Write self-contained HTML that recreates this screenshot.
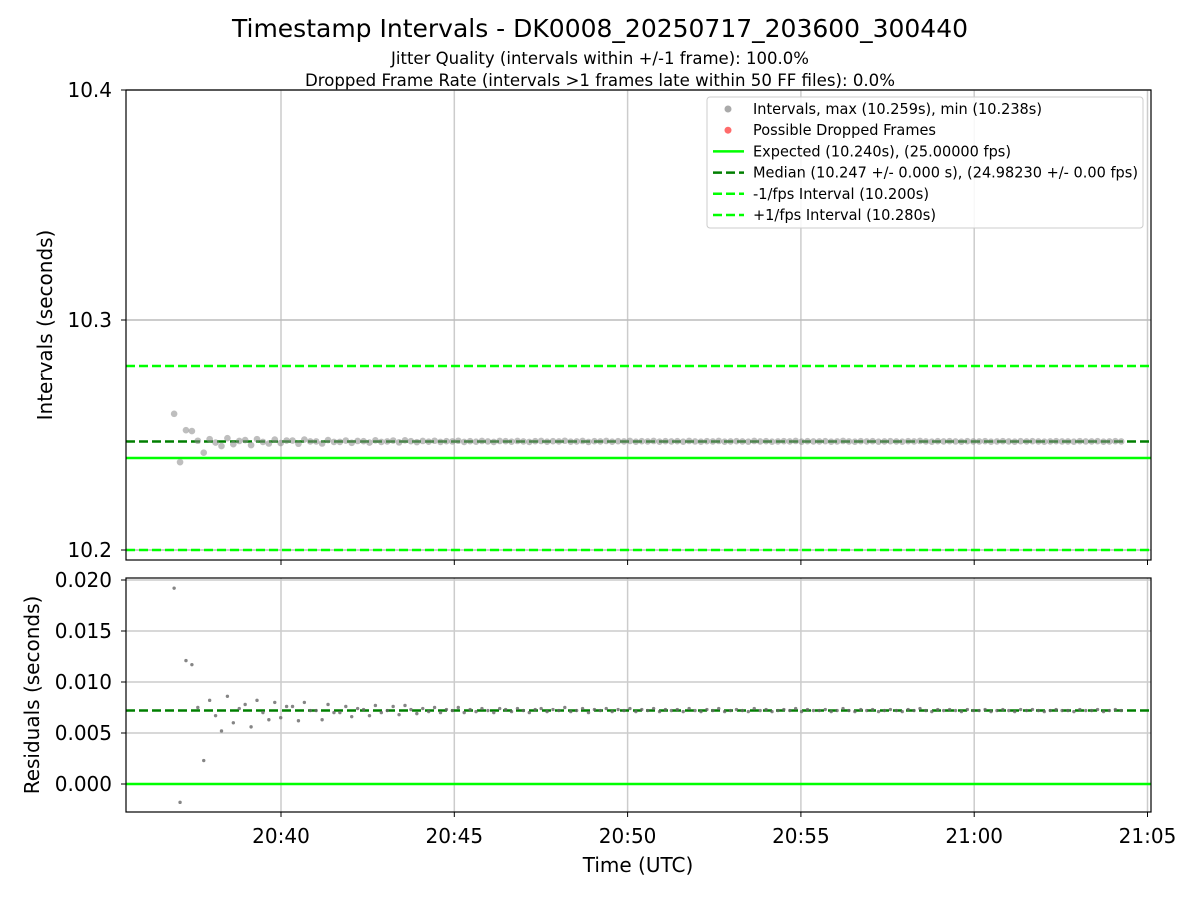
<!DOCTYPE html>
<html><head><meta charset="utf-8"><style>
body{margin:0;background:#fff;}
svg{display:block;font-family:"DejaVu Sans","Liberation Sans",sans-serif;}
</style></head><body>
<svg id="chart" width="1200" height="900" xmlns="http://www.w3.org/2000/svg">
<rect width="1200" height="900" fill="#fff"/>
<text x="600" y="37" text-anchor="middle" font-size="25" textLength="736" lengthAdjust="spacingAndGlyphs">Timestamp Intervals - DK0008_20250717_203600_300440</text>
<text x="600" y="64" text-anchor="middle" font-size="16.5" textLength="418" lengthAdjust="spacingAndGlyphs">Jitter Quality (intervals within +/-1 frame): 100.0%</text>
<text x="600" y="86" text-anchor="middle" font-size="16.5" textLength="590" lengthAdjust="spacingAndGlyphs">Dropped Frame Rate (intervals &gt;1 frames late within 50 FF files): 0.0%</text>
<g id="topPanel"></g>
<g id="botPanel"></g>
</svg>
<script>
const residuals = [0.0192,-0.0018,0.0121,0.0117,0.0075,0.0023,0.0082,0.0067,0.0052,0.0086,0.0060,0.0074,0.0078,0.0056,0.0082,0.0070,0.0063,0.0080,0.0065,0.0076,0.0076,0.0062,0.0080,0.0072,0.0072,0.0063,0.0078,0.0070,0.0070,0.0076,0.0066,0.0074,0.0073,0.0067,0.0077,0.0070,0.0072,0.0076,0.0068,0.0077,0.0073,0.0069,
0.0074,0.0071,0.0075,0.0070,0.0073,0.0072,0.0075,0.0070,0.0073,0.0071,0.0074,0.0072,0.0070,0.0074,0.0073,0.0071,0.0074,0.0072,0.0070,0.0073,0.0074,0.0071,0.0073,0.0072,0.0075,0.0071,0.0072,0.0074,0.0070,0.0073,0.0072,0.0074,0.0071,0.0073,0.0072,0.0074,0.0071,0.0073,
0.0072,0.0074,0.0071,0.0073,0.0072,0.0073,0.0071,0.0074,0.0072,0.0071,0.0073,0.0072,0.0074,0.0071,0.0072,0.0073,0.0072,0.0071,0.0074,0.0072,0.0073,0.0071,0.0072,0.0073,0.0072,0.0074,0.0071,0.0073,0.0072,0.0072,0.0073,0.0071,0.0072,0.0074,0.0072,0.0071,0.0073,0.0072,0.0073,0.0071,
0.0072,0.0073,0.0072,0.0071,0.0073,0.0072,0.0074,0.0072,0.0071,0.0073,0.0072,0.0073,0.0072,0.0071,0.0073,0.0072,0.0072,0.0073,0.0071,0.0072,0.0073,0.0072,0.0071,0.0073,0.0072,0.0073,0.0072,0.0071,0.0072,0.0073,0.0072,0.0072,0.0071,0.0073,0.0072,0.0072,0.0073,0.0071,0.0072,0.0073,0.0072];
const expected = 10.240;
const median = 10.2472;
const startSec = 20*3600+36*60+55;
const xTickLabels = ["20:40","20:45","20:50","20:55","21:00","21:05"];
const xTickSecs = [20*3600+40*60,20*3600+45*60,20*3600+50*60,20*3600+55*60,21*3600,21*3600+5*60];
const topTicks = [10.2,10.3,10.4];
const botTicks = [0.000,0.005,0.010,0.015,0.020];

const NS="http://www.w3.org/2000/svg";
function mk(p,t,a){const e=document.createElementNS(NS,t);for(const k in a)e.setAttribute(k,a[k]);p.appendChild(e);return e;}
const L=126,R=1151;
const x0=xTickSecs[0],xpx0=281,pxPerSec=173.3/300;
const X=s=>xpx0+(s-x0)*pxPerSec;
const TT=90,TB=560, Yt=v=>90+(10.4-v)*2300;
const BT=578,BB=812, Yb=v=>784-v*10200;
const topG=document.getElementById('topPanel'),botG=document.getElementById('botPanel');

for(const s of xTickSecs){
  let g=mk(topG,'line',{x1:X(s),x2:X(s),y1:TT,y2:TB,stroke:'#ccc','stroke-width':1.5});
  
  
  g=mk(botG,'line',{x1:X(s),x2:X(s),y1:BT,y2:BB,stroke:'#ccc','stroke-width':1.5});
  
  
}
for(const v of topTicks){
  const g=mk(topG,'line',{x1:L,x2:R,y1:Yt(v),y2:Yt(v),stroke:'#bbb','stroke-width':1.5});
  
  
  const t=mk(topG,'text',{x:112,y:Yt(v)+7,'text-anchor':'end','font-size':20});t.textContent=v.toFixed(1);
  
  
  mk(topG,'line',{x1:L-5,x2:L,y1:Yt(v),y2:Yt(v),stroke:'#000'});
}
for(const v of botTicks){
  const g=mk(botG,'line',{x1:L,x2:R,y1:Yb(v),y2:Yb(v),stroke:'#ccc','stroke-width':1.5});
  
  
  const t=mk(botG,'text',{x:112,y:Yb(v)+7,'text-anchor':'end','font-size':20});t.textContent=v.toFixed(3);
  
  
  mk(botG,'line',{x1:L-5,x2:L,y1:Yb(v),y2:Yb(v),stroke:'#000'});
}
function hl(p,y,col,dash,name){const e=mk(p,'line',{x1:L,x2:R,y1:y,y2:y,stroke:col,'stroke-width':2.5});if(dash)e.setAttribute('stroke-dasharray',dash);
  
  }
hl(topG,Yt(expected+0.04),'#00ff00','9,4','plus-fps-line');
hl(topG,Yt(expected-0.04),'#00ff00','9,4','minus-fps-line');
hl(topG,Yt(expected),'#00ff00',null,'expected-line');
hl(topG,Yt(median),'#007f00','9,4','median-line');
hl(botG,Yb(0),'#00ff00',null,'residual-zero-line');
hl(botG,Yb(median-expected),'#007f00','9,4','residual-median-line');
let tcur=startSec;
residuals.forEach((r,i)=>{
  const cx=X(tcur);
  if(cx<=R+2){
    const c=mk(topG,'circle',{cx:cx,cy:Yt(expected+r),r:3.3,fill:'#888','fill-opacity':0.55});
    
    
    const d=mk(botG,'circle',{cx:cx,cy:Yb(r),r:1.7,fill:'#666','fill-opacity':0.8});
    
    
  }
  tcur+=expected+r;
});
for(const [p,a,b] of [[topG,TT,TB],[botG,BT,BB]]){
  const f=mk(p,'rect',{x:L,y:a,width:R-L,height:b-a,fill:'none',stroke:'#000','stroke-width':1.2});
  
  
}
xTickSecs.forEach((s,i)=>{
  mk(topG,'line',{x1:X(s),x2:X(s),y1:TB,y2:TB+5,stroke:'#000'});
  mk(botG,'line',{x1:X(s),x2:X(s),y1:BB,y2:BB+5,stroke:'#000'});
  const tx=mk(botG,'text',{x:X(s),y:843,'text-anchor':'middle','font-size':20});tx.textContent=xTickLabels[i];
  
  
});
let tx=mk(botG,'text',{x:638,y:872,'text-anchor':'middle','font-size':20});tx.textContent='Time (UTC)';


tx=mk(topG,'text',{x:0,y:0,'text-anchor':'middle','font-size':20,transform:'translate(52,325) rotate(-90)'});tx.textContent='Intervals (seconds)';


tx=mk(botG,'text',{x:0,y:0,'text-anchor':'middle','font-size':20,transform:'translate(39,695) rotate(-90)'});tx.textContent='Residuals (seconds)';


const lg=mk(topG,'g',{});


mk(lg,'rect',{x:707,y:97,width:436,height:131,rx:3,fill:'#fff','fill-opacity':0.85,stroke:'#ccc'});
const entries=[['Intervals, max (10.259s), min (10.238s)','dot','#aaa',289],['Possible Dropped Frames','dot','#ff6b6b',183],['Expected (10.240s), (25.00000 fps)','line','#00ff00',258],['Median (10.247 +/- 0.000 s), (24.98230 +/- 0.00 fps)','dash','#007f00',385],['-1/fps Interval (10.200s)','dash','#00ff00',176],['+1/fps Interval (10.280s)','dash','#00ff00',183]];
entries.forEach((e,i)=>{
  const y=109+i*21.2;
  const g=mk(lg,'g',{});
  
  
  if(e[1]==='dot')mk(g,'circle',{cx:728,cy:y,r:3.5,fill:e[2]});
  else{const l=mk(g,'line',{x1:713,x2:744,y1:y,y2:y,stroke:e[2],'stroke-width':2.5});if(e[1]==='dash')l.setAttribute('stroke-dasharray','9,4');}
  const t=mk(g,'text',{x:753,y:y+5,'font-size':15,textLength:e[3],lengthAdjust:'spacingAndGlyphs'});t.textContent=e[0];
});
</script>
</body></html>
